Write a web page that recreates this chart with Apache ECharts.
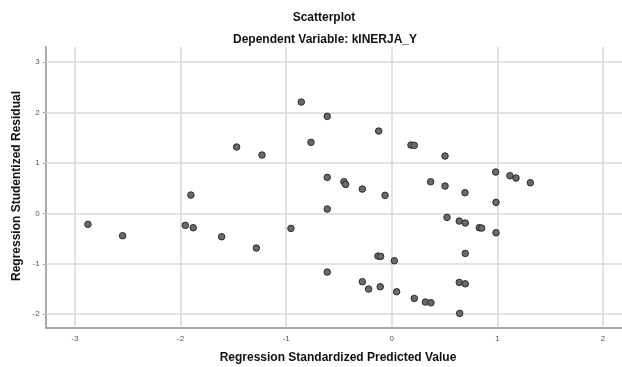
<!DOCTYPE html>
<html>
<head>
<meta charset="utf-8">
<script src="https://cdn.jsdelivr.net/npm/echarts@6/dist/echarts.min.js"></script>
<style>
  html, body { margin: 0; padding: 0; background: #fff; }
  #main { width: 622px; height: 367px; }
</style>
</head>
<body>
<div id="main"></div>
<script>
// standardized predicted values (x) and studentized residuals (y)
var predicted = [-2.877, -2.549, -1.955, -1.902, -1.880, -1.611, -1.469, -1.283, -1.229, -0.955,
  -0.857, -0.765, -0.611, -0.611, -0.611, -0.611, -0.453, -0.437, -0.279, -0.279,
  -0.219, -0.131, -0.124, -0.109, -0.105, -0.064, 0.024, 0.046, 0.182, 0.213,
  0.213, 0.318, 0.368, 0.371, 0.504, 0.504, 0.523, 0.639, 0.639, 0.643,
  0.693, 0.696, 0.696, 0.696, 0.829, 0.851, 0.984, 0.987, 0.987, 1.119,
  1.176, 1.312];
var residual = [-0.218, -0.444, -0.238, 0.363, -0.285, -0.464, 1.316, -0.688, 1.157, -0.298,
  2.208, 1.409, 1.924, 0.714, 0.085, -1.165, 0.627, 0.575, 0.482, -1.356,
  -1.502, -0.847, 1.633, -1.456, -0.853, 0.357, -0.940, -1.555, 1.355, 1.349,
  -1.687, -1.760, 0.627, -1.773, 1.137, 0.542, -0.079, -0.153, -1.369, -1.984,
  0.409, -0.192, -0.794, -1.397, -0.285, -0.292, 0.819, 0.218, -0.385, 0.746,
  0.700, 0.607];
var xTicks = [-3, -2, -1, 0, 1, 2];
var yTicks = [-2, -1, 0, 1, 2, 3];

var points = [];
for (var i = 0; i < predicted.length; i++) {
  points.push([predicted[i], residual[i]]);
}

var gridLines = [];
xTicks.forEach(function (v) { gridLines.push({ xAxis: v }); });
yTicks.forEach(function (v) { gridLines.push({ yAxis: v }); });

var titleFont = 'Liberation Sans, Arial, sans-serif';

var myChart = echarts.init(document.getElementById('main'));
var option = {
  animation: false,
  backgroundColor: '#fff',
  title: [
    { text: 'Scatterplot', left: 319, top: 7, textAlign: 'center',
      textStyle: { fontFamily: titleFont, fontSize: 12, fontWeight: 'bold', color: '#111' } },
    { text: 'Dependent Variable: kINERJA_Y', left: 320, top: 29, textAlign: 'center',
      textStyle: { fontFamily: titleFont, fontSize: 12, fontWeight: 'bold', color: '#111' } }
  ],
  graphic: [
    { type: 'text', x: 338, y: 358, style: { text: 'Regression Standardized Predicted Value',
        font: 'bold 12px ' + titleFont, fill: '#111', align: 'center', verticalAlign: 'middle' } },
    { type: 'text', x: 17, y: 186, rotation: Math.PI / 2, style: { text: 'Regression Studentized Residual',
        font: 'bold 12px ' + titleFont, fill: '#111', align: 'center', verticalAlign: 'middle' } }
  ],
  grid: { left: 45.7, top: 47, right: 0, bottom: 39.7, containLabel: false },
  xAxis: {
    type: 'value',
    min: -3.277,
    max: 2.18,
    axisLine: { onZero: false, lineStyle: { color: '#a8a8a8', width: 2 } },
    axisTick: { show: false },
    axisLabel: { customValues: xTicks, margin: 7, fontSize: 8, color: '#555', fontFamily: titleFont },
    splitLine: { show: false }
  },
  yAxis: {
    type: 'value',
    min: -2.26,
    max: 3.30,
    axisLine: { show: true, onZero: false, lineStyle: { color: '#a8a8a8', width: 2 } },
    axisTick: { show: true, customValues: yTicks, length: 3, lineStyle: { color: '#a8a8a8' } },
    axisLabel: { customValues: yTicks, margin: 6, fontSize: 8, color: '#555', fontFamily: titleFont },
    splitLine: { show: false }
  },
  series: [
    {
      type: 'line',
      data: [],
      z: 1,
      markLine: {
        silent: true,
        symbol: 'none',
        label: { show: false },
        lineStyle: { type: 'solid', color: '#d9d9d9', width: 1.5 },
        emphasis: { disabled: true },
        data: gridLines
      }
    },
    {
      type: 'scatter',
      z: 5,
      symbol: 'circle',
      symbolSize: 6.5,
      itemStyle: { color: '#6a6a6a', borderColor: '#2a2a2a', borderWidth: 1, opacity: 1 },
      data: points
    }
  ]
};
myChart.setOption(option);
</script>
</body>
</html>
